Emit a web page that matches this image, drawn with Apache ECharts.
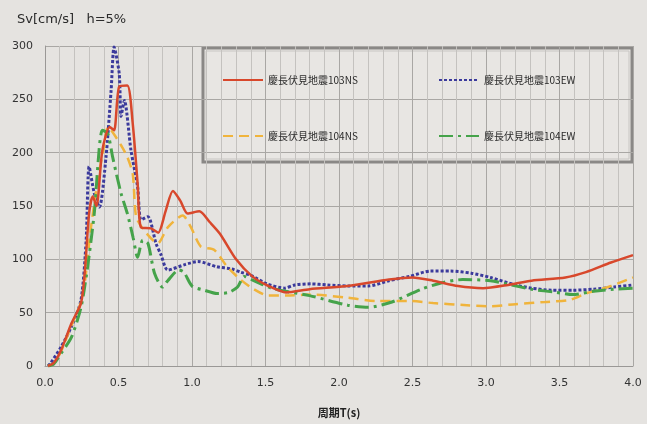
<!DOCTYPE html>
<html><head><meta charset="utf-8">
<script src="https://cdn.jsdelivr.net/npm/echarts@6/dist/echarts.min.js"></script>
<style>html,body{margin:0;padding:0;background:#e5e3e0;}#c{width:647px;height:424px;}</style>
</head><body><div id="c"></div>
<script>
var seriesNames = ['慶長伏見地震103NS','慶長伏見地震103EW','慶長伏見地震104NS','慶長伏見地震104EW'];
var xTicks = ['0.0','0.5','1.0','1.5','2.0','2.5','3.0','3.5','4.0'];
var yTicks = [0,50,100,150,200,250,300];

var red103NS = [[0.02,0],[0.06,3],[0.11,15],[0.18,40],[0.245,59],[0.27,87],[0.30,143],[0.325,159],[0.35,150],[0.39,202],[0.44,224],[0.47,221],[0.505,262],[0.56,263],[0.597,227],[0.63,171],[0.653,130],[0.72,129],[0.77,125],[0.82,145],[0.87,164],[0.92,155],[0.97,143],[1.05,145],[1.12,135],[1.19,124],[1.30,100],[1.41,84],[1.52,75],[1.64,69],[1.80,72],[2.06,75],[2.34,81],[2.50,83],[2.64,80],[2.81,75],[2.98,73],[3.15,76],[3.31,80],[3.54,83],[3.68,88],[3.85,97],[4.0,104]];
var blue103EW = [[0.02,0],[0.04,3],[0.11,18],[0.18,37],[0.245,62],[0.28,118],[0.30,187],[0.335,162],[0.37,149],[0.415,196],[0.45,259],[0.47,299],[0.505,274],[0.517,234],[0.54,249],[0.585,202],[0.63,168],[0.653,137],[0.70,140],[0.755,115],[0.79,104],[0.835,90],[0.95,95],[1.04,98],[1.17,93],[1.27,91],[1.33,88],[1.40,85],[1.51,77],[1.63,73],[1.70,76],[1.81,77],[1.92,76],[2.06,75],[2.2,75],[2.34,80],[2.48,84],[2.62,89],[2.76,89],[2.9,87],[3.03,83],[3.2,76],[3.31,73],[3.45,71],[3.59,71],[3.73,72],[3.87,74],[4.0,76]];
var yellow104NS = [[0.02,0],[0.06,2],[0.11,14],[0.18,38],[0.245,60],[0.27,77],[0.31,127],[0.36,175],[0.40,205],[0.43,224],[0.495,212],[0.517,207],[0.56,196],[0.597,180],[0.62,140],[0.675,127],[0.767,115],[0.835,130],[0.937,141],[0.993,130],[1.06,112],[1.15,109],[1.24,93],[1.33,81],[1.42,72],[1.52,66],[1.64,66],[1.80,67],[2.06,64],[2.25,61],[2.48,61],[2.64,59],[2.87,57],[3.03,56],[3.2,58],[3.4,60],[3.57,62],[3.68,68],[3.85,75],[4.0,83]];
var green104EW = [[0.02,0],[0.06,2],[0.11,12],[0.18,27],[0.245,55],[0.29,93],[0.335,143],[0.39,221],[0.427,218],[0.46,196],[0.517,162],[0.56,143],[0.60,120],[0.63,102],[0.665,118],[0.70,115],[0.745,87],[0.80,74],[0.835,80],[0.91,90],[0.945,88],[1.0,75],[1.085,71],[1.17,68],[1.25,69],[1.31,74],[1.355,84],[1.42,80],[1.54,73],[1.64,70],[1.80,66],[2.06,57],[2.2,55],[2.36,60],[2.56,72],[2.7,78],[2.84,81],[3.03,80],[3.17,76],[3.31,72],[3.48,69],[3.59,67],[3.73,70],[3.87,72],[4.0,73]];

var colors = ['#d8482c','#3b3a9c','#f0b43c','#45a34a'];
var seriesData = [red103NS, blue103EW, yellow104NS, green104EW];
var dashes = ['solid',[3,2],[10,6],[14,5,3,5]];
var widths = [2.5,3,2.5,3];
var legendPos = [[222,75],[438,75],[222,131],[438,131]];

var chart = echarts.init(document.getElementById('c'));
var fontLat = '"DejaVu Sans", "Noto Sans", sans-serif';
chart.setOption({
  backgroundColor: '#e5e3e0',
  animation: false,
  title: {text: 'Sv[cm/s]   h=5%', left: 12, top: 8, textStyle: {fontSize: 13, fontWeight: 'normal', color: '#2a2a2a', fontFamily: fontLat}},
  grid: {left: 45, right: 14, top: 46, bottom: 58},
  legend: legendPos.map(function(p, i){
    return {data: [seriesNames[i]], left: p[0], top: p[1], padding: 0, itemWidth: 40, itemHeight: 10, itemGap: 6,
      itemStyle: {opacity: 0},
      textStyle: {fontSize: 10, color: '#2a2a2a', fontFamily: '"Noto Sans CJK JP", sans-serif'}};
  }),
  graphic: [
    {type: 'rect', shape: {x: 203, y: 48, width: 429, height: 114}, style: {fill: '#e8e6e3', stroke: '#8a8886', lineWidth: 3}, z: 0},
    {type: 'rect', shape: {x: 206, y: 51, width: 423, height: 108}, style: {fill: 'none', stroke: '#c8c6c3', lineWidth: 1}, z: 0}
  ],
  xAxis: {
    type: 'value', min: 0, max: 4, interval: 0.5,
    name: '周期T(s)', nameLocation: 'middle', nameGap: 41,
    nameTextStyle: {fontSize: 11, color: '#222', fontFamily: '"Noto Sans CJK JP", sans-serif', fontWeight: 'bold'},
    axisLine: {show: true, lineStyle: {color: '#9a9896'}},
    axisTick: {show: false},
    axisLabel: {fontSize: 11, color: '#333', margin: 12, fontFamily: fontLat, formatter: function(v){ var s = v.toFixed(1); return xTicks.indexOf(s) >= 0 ? s : ''; }},
    splitLine: {show: true, lineStyle: {color: '#a9a7a4', width: 1}},
    minorTick: {show: false, splitNumber: 5},
    minorSplitLine: {show: true, lineStyle: {color: '#c4c2bf', width: 1}}
  },
  yAxis: {
    type: 'value', min: 0, max: 300, interval: 50,
    axisLine: {show: true, lineStyle: {color: '#9a9896'}},
    axisTick: {show: false},
    axisLabel: {fontSize: 11, color: '#333', margin: 12, fontFamily: fontLat, formatter: function(v){ return yTicks.indexOf(v) >= 0 ? String(v) : ''; }},
    splitLine: {show: true, lineStyle: {color: '#a9a7a4', width: 1}}
  },
  series: seriesNames.map(function(n, i){
    return {name: n, type: 'line', data: seriesData[i], smooth: 0.25, symbol: 'none', z: 3 + (i === 0 ? 2 : 0),
      lineStyle: {color: colors[i], width: widths[i], type: dashes[i]}, itemStyle: {color: colors[i]}};
  })
});
</script></body></html>
